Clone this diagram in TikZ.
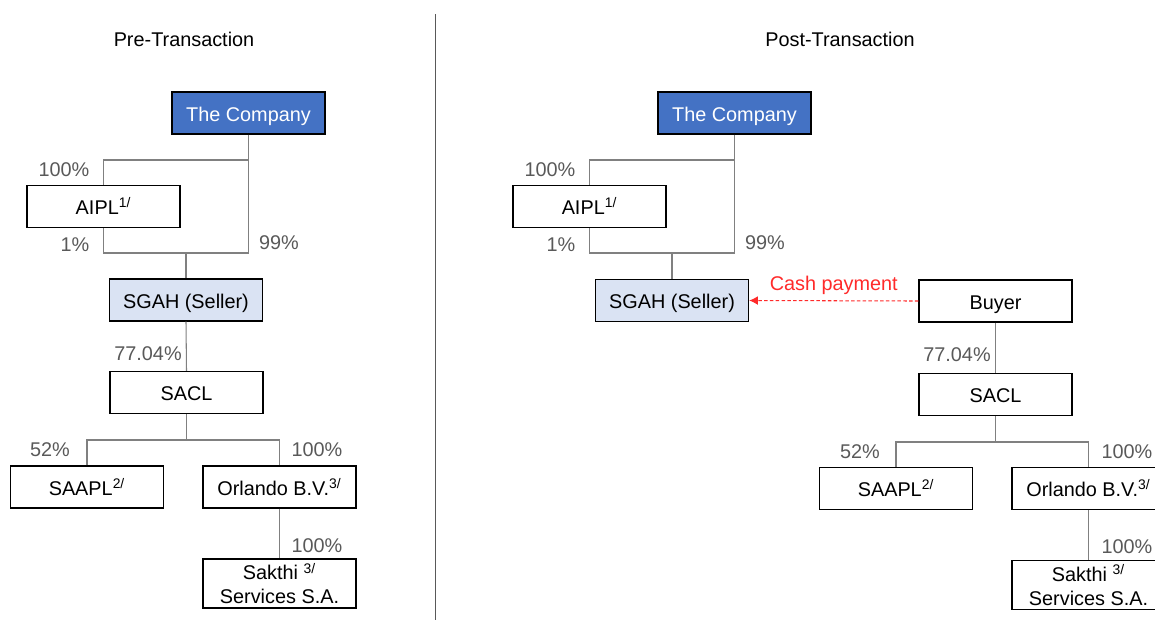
\documentclass[tikz,border=0pt]{standalone}
\usepackage{fontspec}
\setmainfont{Liberation Sans}
\usetikzlibrary{arrows.meta}
\definecolor{coblue}{HTML}{4472C4}
\definecolor{sellerblue}{HTML}{DAE3F3}
\definecolor{linkgray}{HTML}{808080}
\definecolor{pctgray}{HTML}{595959}
\definecolor{cashred}{HTML}{FF2A2A}
\tikzset{
	entity/.style={draw=black, line width=0.75pt, fill=white, minimum width=3.06cm, minimum height=0.84cm, inner sep=0pt, align=center, text height=0.95em, text depth=0pt, font=\fontsize{11.3}{13.6}\selectfont},
	company/.style={entity, fill=coblue, text=white},
	seller/.style={entity, fill=sellerblue},
	link/.style={draw=linkgray, line width=0.6pt},
	pct/.style={text=pctgray, inner sep=0pt, font=\fontsize{11.3}{13}\selectfont},
	heading/.style={inner sep=0pt, font=\fontsize{11.3}{13}\selectfont},
	cash/.style={draw=cashred, line width=0.6pt, dash pattern=on 2pt off 1.3pt, -{Latex[length=5pt,width=5pt]}}
}

\begin{document}
\begin{tikzpicture}[x=0.02cm, y=-0.02cm]
			%%%%% START %%%%%
			\clip (0, 0) rectangle (1155, 620);
			\draw[draw=pctgray, line width=0.5pt] (435, 14) -- (435, 620);
			
			\node[heading] (pretitle) at (184, 39) {Pre-Transaction};
			\node[heading] (posttitle) at (840, 39) {Post-Transaction};
			
			%% pre-transaction
			\node[company] (comp) at (248.5, 113) {The Company};
			\node[entity] (aipl) at (103.5, 206.5) {AIPL\textsuperscript{1/}};
			\node[seller] (sgah) at (186, 300) {SGAH (Seller)};
			\node[entity] (sacl) at (186.5, 392.5) {SACL};
			\node[entity] (saapl) at (87, 487) {SAAPL\textsuperscript{2/}};
			\node[entity] (orl) at (279.5, 487) {Orlando B.V.\textsuperscript{3/}};
			\node[entity, text height=, text depth=, minimum height=0.98cm] (sak) at (279.5, 583.5) {Sakthi \textsuperscript{3/}\\Services S.A.};
			
			\coordinate (ctop) at (248.5, 160);
			\coordinate (cbot) at (248.5, 253);
			\coordinate (split) at (186.5, 440);
			\draw[link] (comp.south) -- (cbot) -| (sgah.north);
			\draw[link] (ctop) -| (aipl.north);
			\draw[link] (aipl.south) |- (cbot);
			\draw[link] (sgah.south) -- (sacl.north);
			\draw[link] (sacl.south) -- (split);
			\draw[link] (saapl.north) |- (split) -| (orl.north);
			\draw[link] (orl.south) -- (sak.north);
			
			\node[pct] (p1) at (64, 170) {100\%};
			\node[pct] (p2) at (75, 245) {1\%};
			\node[pct] (p3) at (279, 243) {99\%};
			\node[pct] (p4) at (148, 354) {77.04\%};
			\node[pct] (p5) at (50, 450) {52\%};
			\node[pct] (p6) at (317, 450) {100\%};
			\node[pct] (p7) at (317, 546) {100\%};
			
			%% post-transaction
			\node[company] (comp2) at (734.5, 113) {The Company};
			\node[entity] (aipl2) at (589.5, 206.5) {AIPL\textsuperscript{1/}};
			\node[seller] (sgah2) at (672, 300.5) {SGAH (Seller)};
			\node[entity] (buyer) at (995.5, 301) {Buyer};
			\node[entity] (sacl2) at (995.5, 394.5) {SACL};
			\node[entity] (saapl2) at (896, 488.5) {SAAPL\textsuperscript{2/}};
			\node[entity] (orl2) at (1088.5, 488.5) {Orlando B.V.\textsuperscript{3/}};
			\node[entity, text height=, text depth=, minimum height=0.98cm] (sak2) at (1088.5, 585) {Sakthi \textsuperscript{3/}\\Services S.A.};
			
			\coordinate (ctop2) at (734.5, 160);
			\coordinate (cbot2) at (734.5, 253);
			\coordinate (split2) at (995.5, 442);
			\draw[link] (comp2.south) -- (cbot2) -| (sgah2.north);
			\draw[link] (ctop2) -| (aipl2.north);
			\draw[link] (aipl2.south) |- (cbot2);
			\draw[link] (buyer.south) -- (sacl2.north);
			\draw[link] (sacl2.south) -- (split2);
			\draw[link] (saapl2.north) |- (split2) -| (orl2.north);
			\draw[link] (orl2.south) -- (sak2.north);
			
			\draw[cash] (buyer.west) -- node[midway, above=3pt, inner sep=0pt, text=cashred, font=\fontsize{11.3}{13}\selectfont] (cashlbl) {Cash payment} (sgah2.east);
			
			\node[pct] (q1) at (550, 170) {100\%};
			\node[pct] (q2) at (561, 245) {1\%};
			\node[pct] (q3) at (765, 243) {99\%};
			\node[pct] (q4) at (957, 355) {77.04\%};
			\node[pct] (q5) at (860, 452) {52\%};
			\node[pct] (q6) at (1127, 452) {100\%};
			\node[pct] (q7) at (1127, 547) {100\%};
			%%%%% END %%%%%
\end{tikzpicture}
\end{document}
